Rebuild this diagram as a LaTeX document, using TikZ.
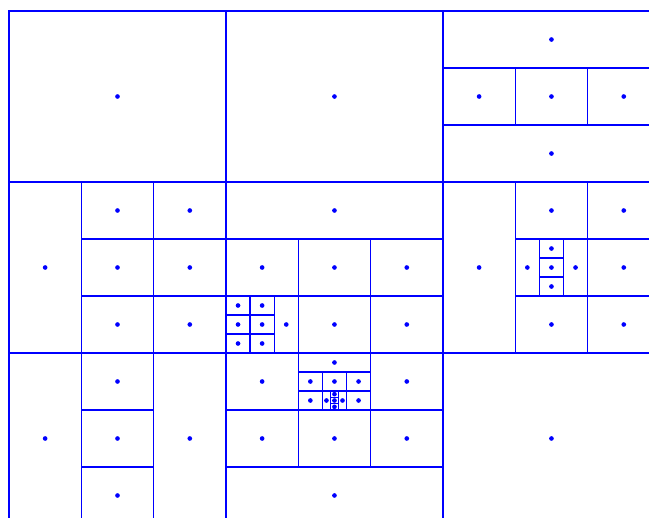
\documentclass[tikz,border=0pt]{standalone}

\begin{document}
\begin{tikzpicture}[
  x=0.2411cm,
  y=-0.19cm,
  gridline/.style={draw=blue,line width=1.1pt},
  celldot/.style={fill=blue}
]

% Frame (grid in ninths of a cell, cut at right and bottom)
\useasboundingbox (-1.12,-1.74) rectangle (79.64,80.05);
\clip (-1.12,-1.74) rectangle (79.64,80.05);

% Top row of blocks
\foreach \cx/\cy/\cw/\ch in {
  0/0/27/27, 27/0/27/27,
  54/0/27/9, 54/9/9/9, 63/9/9/9, 72/9/9/9, 54/18/27/9}{
  \draw[gridline] (\cx,\cy) rectangle ++(\cw,\ch);
  \fill[celldot] ({\cx+\cw/2},{\cy+\ch/2}) circle[radius=0.07cm];
}

% Middle row of blocks
\foreach \cx/\cy/\cw/\ch in {
  0/27/9/27, 9/27/9/9, 18/27/9/9, 9/36/9/9, 18/36/9/9, 9/45/9/9, 18/45/9/9,
  27/27/27/9, 27/36/9/9, 36/36/9/9, 45/36/9/9,
  27/45/3/3, 30/45/3/3, 27/48/3/3, 30/48/3/3, 27/51/3/3, 30/51/3/3, 33/45/3/9,
  36/45/9/9, 45/45/9/9,
  54/27/9/27, 63/27/9/9,
  63/36/3/9, 66/36/3/3, 66/39/3/3, 66/42/3/3, 69/36/3/9,
  63/45/9/9, 72/27/9/9, 72/36/9/9, 72/45/9/9}{
  \draw[gridline] (\cx,\cy) rectangle ++(\cw,\ch);
  \fill[celldot] ({\cx+\cw/2},{\cy+\ch/2}) circle[radius=0.07cm];
}

% Bottom row of blocks
\foreach \cx/\cy/\cw/\ch in {
  0/54/9/27, 9/54/9/9, 9/63/9/9, 9/72/9/9, 18/54/9/27,
  27/54/9/9,
  36/54/9/3, 36/57/3/3, 39/57/3/3, 42/57/3/3,
  36/60/3/3, 39/60/1/3, 40/60/1/1, 40/61/1/1, 40/62/1/1, 41/60/1/3, 42/60/3/3,
  45/54/9/9, 27/63/9/9, 36/63/9/9, 45/63/9/9, 27/72/27/9,
  54/54/27/27}{
  \draw[gridline] (\cx,\cy) rectangle ++(\cw,\ch);
  \fill[celldot] ({\cx+\cw/2},{\cy+\ch/2}) circle[radius=0.07cm];
}

\end{tikzpicture}
\end{document}
